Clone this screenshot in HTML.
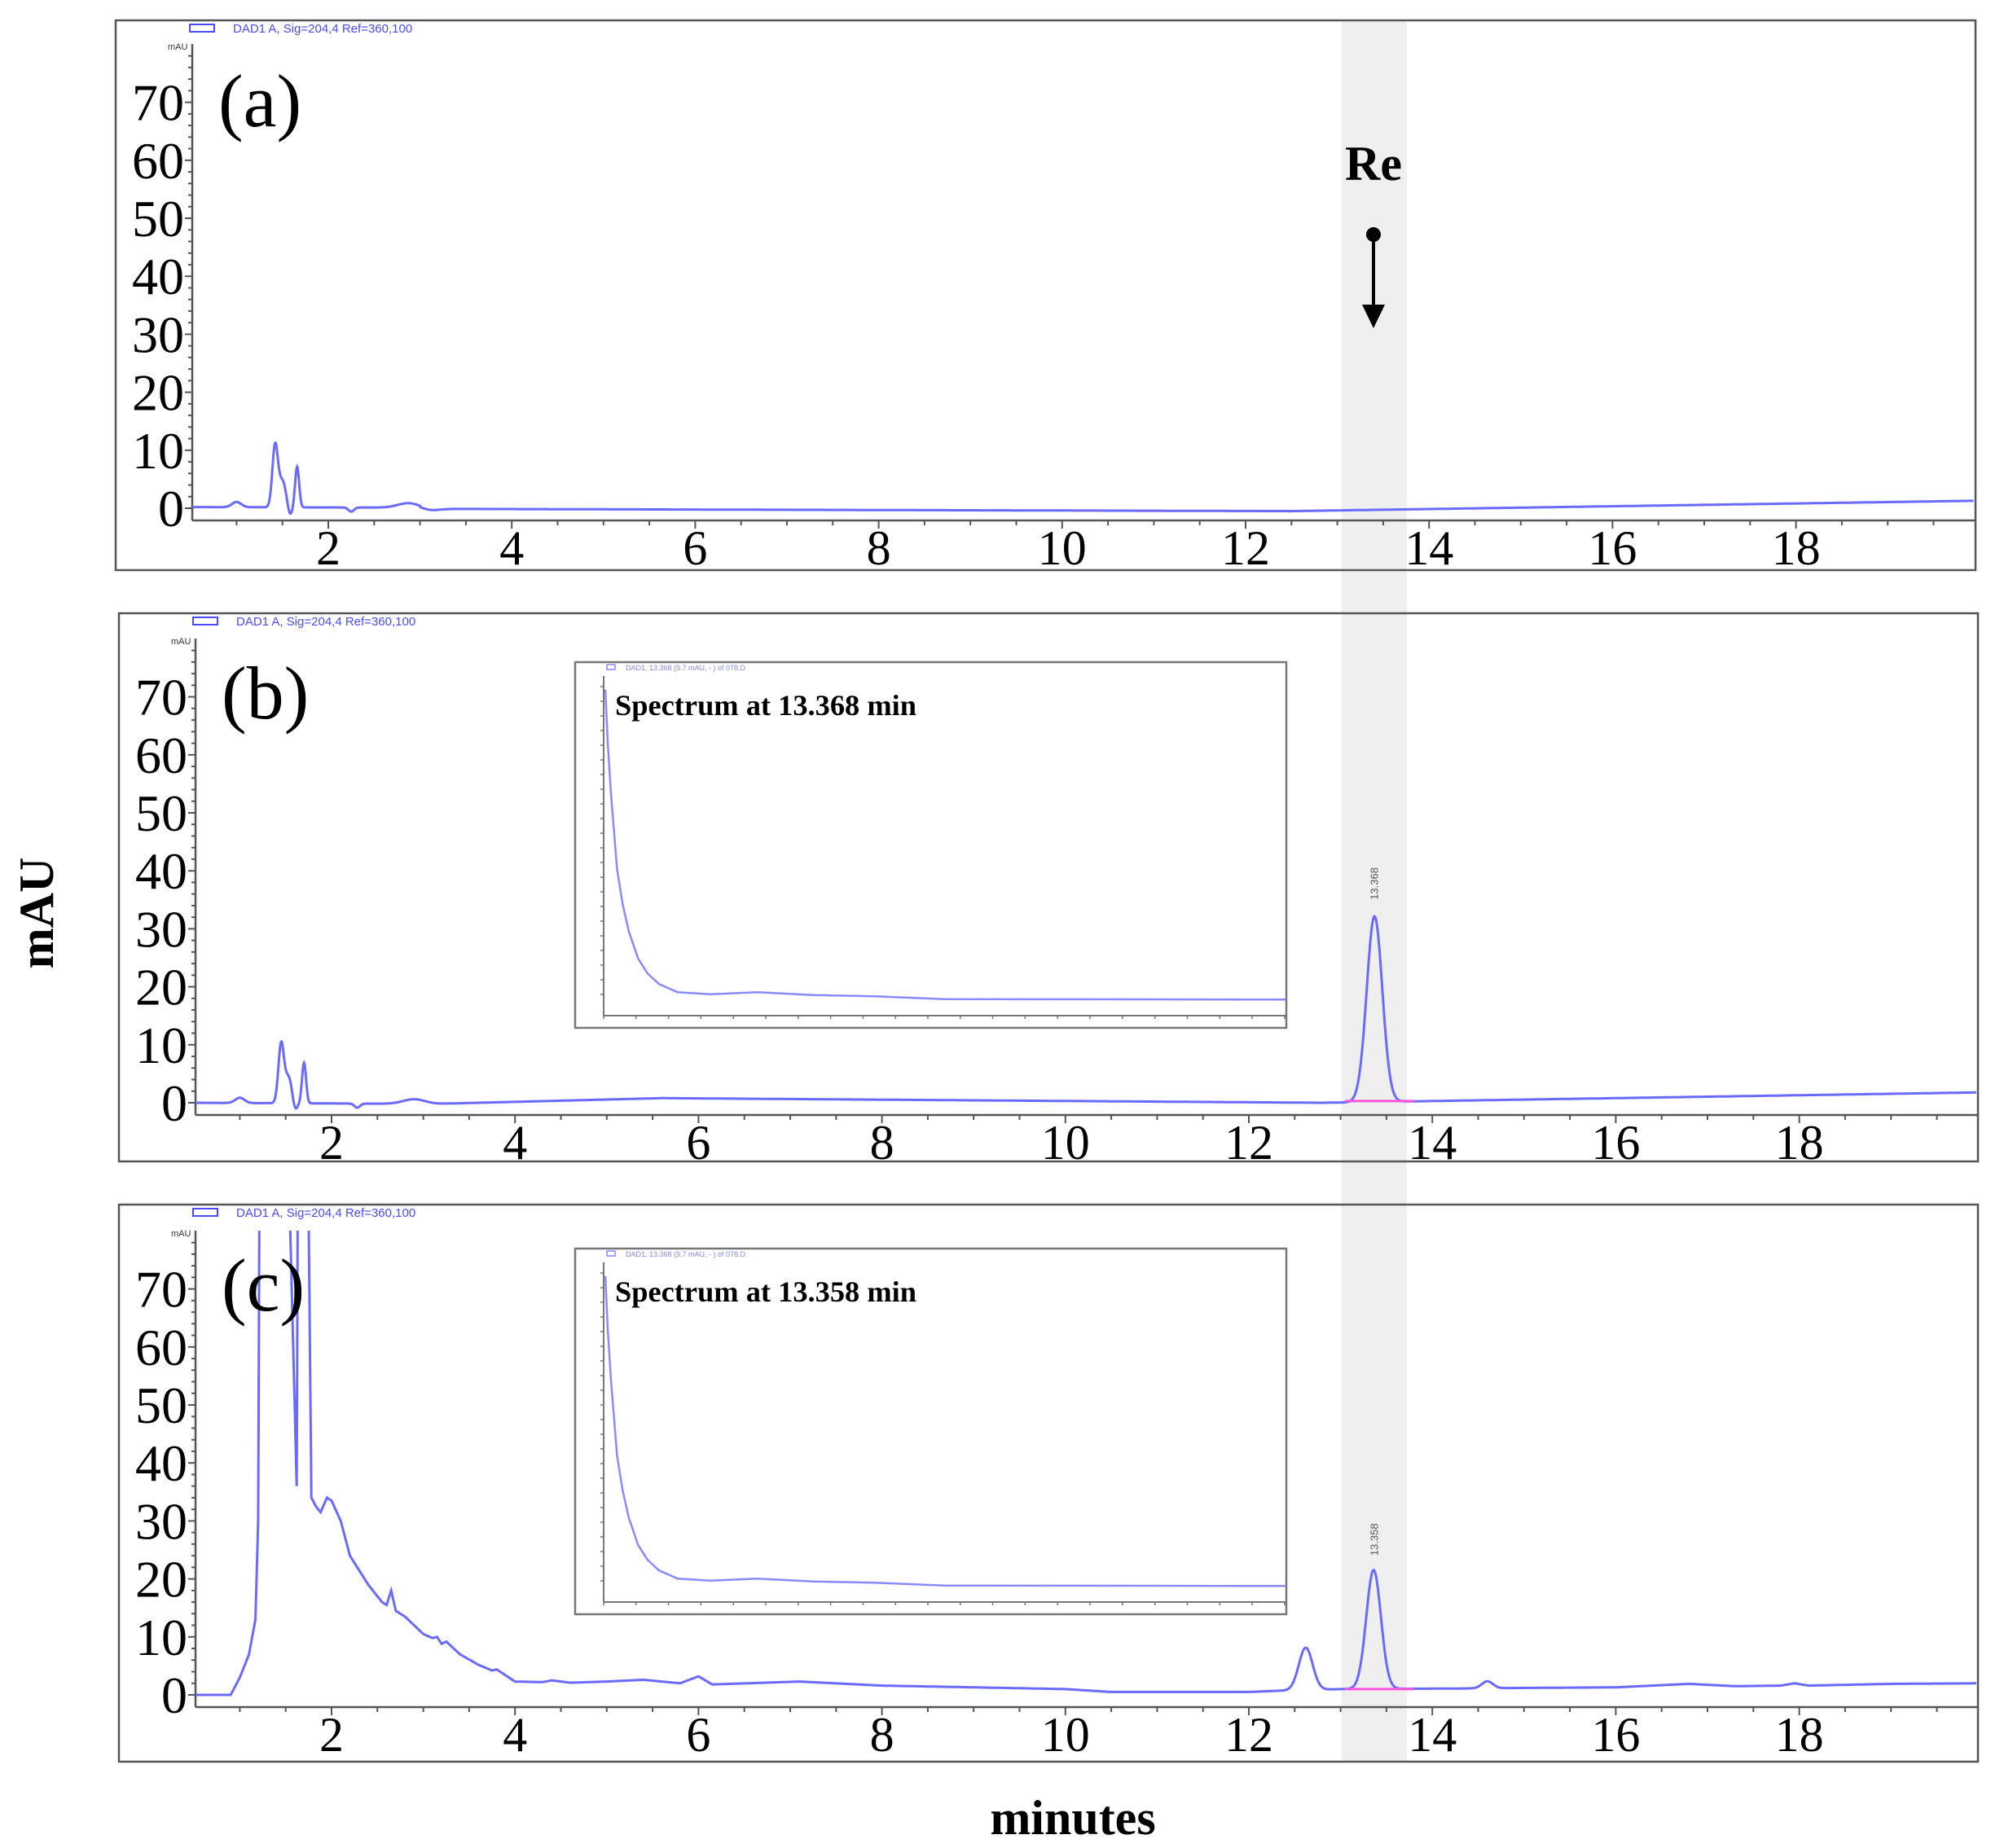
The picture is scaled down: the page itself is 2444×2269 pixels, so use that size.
<!DOCTYPE html>
<html><head><meta charset="utf-8"><style>
html,body{margin:0;padding:0;background:#fff;}
svg{display:block;}
text{font-family:"Liberation Serif",serif;}
</style></head><body>
<svg id="s" width="2444" height="2269" viewBox="0 0 2444 2269" xmlns="http://www.w3.org/2000/svg">
<rect x="0" y="0" width="2444" height="2269" fill="#fff"/>
<rect x="1647" y="26" width="80" height="2137" fill="#efefef"/>
<g id="g"></g>
<text x="1686" y="221" font-size="60" font-weight="bold" text-anchor="middle">Re</text>
<circle cx="1686" cy="288" r="9" fill="#000"/>
<line x1="1686" y1="288" x2="1686" y2="380" stroke="#000" stroke-width="4"/>
<polygon points="1672,374 1700,374 1686,403" fill="#000"/>
<text transform="translate(65,1121) rotate(-90)" font-size="60" font-weight="bold" text-anchor="middle">mAU</text>
<text x="1317" y="2252" font-size="60" font-weight="bold" text-anchor="middle">minutes</text>
</svg>
<script>
var g=document.getElementById('g');var h='';
var SC=112.6, VS=7.12;
function gs(t,c,a,s){return a*Math.exp(-0.5*Math.pow((t-c)/s,2));}
function interp(P,t){if(t<=P[0][0])return P[0][1];for(var i=1;i<P.length;i++){if(t<=P[i][0]){var a=P[i-1],b=P[i];return a[1]+(b[1]-a[1])*(t-a[0])/(b[0]-a[0]);}}return P[P.length-1][1];}
function fa(t){var v=interp([[0.5,0],[12.5,-0.5],[20,1.3]],t);
 if(t<=3)v+=0.2;
 v+=gs(t,1.0,0.9,0.05)+gs(t,1.42,10.5,0.03)+gs(t,1.5,4.5,0.04)-gs(t,1.58,1.6,0.025)+gs(t,1.66,7,0.022)-gs(t,2.25,0.7,0.03)+gs(t,2.88,0.8,0.12)-gs(t,3.1,0.3,0.1);
 return v;}
function fb(t){var v=interp([[0.5,0],[3.1,-0.2],[5.6,0.8],[12.8,0],[20,1.8]],t);
 v+=gs(t,1.0,0.9,0.05)+gs(t,1.45,10,0.03)+gs(t,1.53,4.5,0.04)-gs(t,1.6,1.6,0.025)+gs(t,1.7,7,0.022)-gs(t,2.28,0.7,0.03)+gs(t,2.9,0.8,0.12)+gs(t,13.37,32,0.085);
 return v;}
var CP=[[0.5,0],[0.9,0],[1.0,3],[1.1,7],[1.17,13],[1.2,30],[1.23,150],[1.25,300],[1.45,300],[1.49,200],[1.55,80],[1.62,36],[1.64,120],[1.66,300],[1.7,300],[1.74,100],[1.78,34],[1.83,32.5],[1.88,31.5],[1.95,34],[2.0,33.5],[2.1,30],[2.15,27],[2.2,24],[2.3,21.5],[2.4,19],[2.5,17],[2.55,16],[2.6,15.5],[2.65,18],[2.7,14.5],[2.8,13.5],[2.9,12],[3.0,10.5],[3.1,9.8],[3.15,10],[3.2,8.8],[3.25,9.2],[3.4,7],[3.6,5.2],[3.75,4.2],[3.8,4.4],[4.0,2.3],[4.3,2.2],[4.4,2.5],[4.6,2.1],[5.0,2.3],[5.4,2.6],[5.8,2.0],[6.0,3.2],[6.15,1.8],[7.1,2.3],[8,1.6],[9,1.3],[10,1.0],[10.5,0.5],[12,0.5],[12.3,0.7],[13,1.0],[14.3,1.1],[15,1.2],[16,1.3],[16.8,1.9],[17.3,1.5],[17.8,1.6],[17.95,2.0],[18.1,1.6],[19,1.9],[20,2.0]];
function fc(t){return interp(CP,t)+gs(t,12.62,7.3,0.075)+gs(t,13.36,20.5,0.08)+gs(t,14.6,1.2,0.06);}
var panels=[{dy:0,dx:0,f:fa,top:25,bot:700,r:2425},{dy:727,dx:4,f:fb,top:753,bot:1426,r:2428},{dy:1454,dx:4,f:fc,top:1479,bot:2163,r:2428}];
panels.forEach(function(p,i){
 var dx=p.dx,dy=p.dy,y0=624+dy+(i?3:0),ax=236+dx,xa=639+dy+(i?3:0);
 function X(t){return 403+dx+(t-2)*SC;} function Y(v){return y0-v*VS;}
 h+='<clipPath id="cp'+i+'"><rect x="'+ax+'" y="'+(p.top+32)+'" width="'+(p.r-ax)+'" height="'+(xa-p.top-32)+'"/></clipPath>';
 h+='<rect x="'+(142+dx)+'" y="'+p.top+'" width="'+(p.r-142-dx)+'" height="'+(p.bot-p.top)+'" fill="none" stroke="#555" stroke-width="2.5"/>';
 h+='<rect x="'+(ax-3)+'" y="'+(p.top+5)+'" width="30" height="9" fill="none" stroke="#4a4aff" stroke-width="2"/>';
 h+='<text x="'+(ax+50)+'" y="'+(p.top+15)+'" font-size="15" fill="#4a4aff" style="font-family:Liberation Sans,sans-serif">DAD1 A, Sig=204,4 Ref=360,100</text>';
 h+='<text x="'+(ax-30)+'" y="'+(xa-578)+'" font-size="11" fill="#333" style="font-family:Liberation Sans,sans-serif">mAU</text>';
 h+='<line x1="'+ax+'" y1="'+(xa-585)+'" x2="'+ax+'" y2="'+xa+'" stroke="#555" stroke-width="2.5"/>';
 h+='<line x1="'+ax+'" y1="'+xa+'" x2="'+p.r+'" y2="'+xa+'" stroke="#555" stroke-width="2.5"/>';
 for(var v=0;v<=78;v+=2){var yy=Y(v);h+='<line x1="'+(ax-(v%10?5:9))+'" y1="'+yy+'" x2="'+ax+'" y2="'+yy+'" stroke="#555" stroke-width="2"/>';
  if(v%10==0)h+='<text x="'+(ax-10)+'" y="'+(yy+22)+'" font-size="64" text-anchor="end">'+v+'</text>';}
 for(var t=0.5;t<20;t+=0.5){var xx=X(t);if(xx<ax)continue;h+='<line x1="'+xx+'" y1="'+xa+'" x2="'+xx+'" y2="'+(xa+(t%2?6:10))+'" stroke="#555" stroke-width="2"/>';
  if(t%2==0)h+='<text x="'+xx+'" y="'+(xa+54)+'" font-size="60" text-anchor="middle">'+t+'</text>';}
 var d='';for(var t=0.52;t<=20.0;t+=0.005){var xx=X(t);if(xx>p.r-2)break;var yy=Y(p.f(t));d+=(d?'L':'M')+xx.toFixed(1)+' '+yy.toFixed(1);}
 h+='<path d="'+d+'" fill="none" stroke="#6a6aff" stroke-width="3" clip-path="url(#cp'+i+')"/>';
 var lbl=['(a)','(b)','(c)'][i];
 h+='<text x="'+(268+dx)+'" y="'+(155+dy)+'" font-size="92">'+lbl+'</text>';
 if(i>0){var v1=i==1?0.3:1.0;h+='<line x1="'+X(13.05)+'" y1="'+Y(v1)+'" x2="'+X(13.8)+'" y2="'+Y(v1)+'" stroke="#ff55dd" stroke-width="3"/>';
  h+='<text transform="translate('+(X(13.37)+4)+','+(Y(i==1?35:24))+') rotate(-90)" font-size="13" fill="#555" style="font-family:Liberation Sans,sans-serif">'+(i==1?'13.368':'13.358')+'</text>';
  var it=i==1?813:1533,ib=i==1?1262:1982;
  h+='<rect x="706" y="'+it+'" width="873" height="'+(ib-it)+'" fill="#fff" stroke="#777" stroke-width="2.5"/>';
  h+='<rect x="745" y="'+(it+3)+'" width="10" height="6" fill="none" stroke="#88f" stroke-width="1.5"/>';
  h+='<text x="768" y="'+(it+10)+'" font-size="9" fill="#88f" style="font-family:Liberation Sans,sans-serif">DAD1, 13.368 (9.7 mAU, - ) of 078.D</text>';
  var ya=ib-15;
  h+='<line x1="741" y1="'+(it+17)+'" x2="741" y2="'+ya+'" stroke="#777" stroke-width="2"/>';
  h+='<line x1="741" y1="'+ya+'" x2="1579" y2="'+ya+'" stroke="#777" stroke-width="2"/>';
  for(var k=0;k<22;k++){var xx=741+k*39.8;h+='<line x1="'+xx+'" y1="'+ya+'" x2="'+xx+'" y2="'+(ya+4)+'" stroke="#777" stroke-width="1.5"/>';}
  for(var k=0;k<22;k++){var yy=it+30+k*18;h+='<line x1="737" y1="'+yy+'" x2="741" y2="'+yy+'" stroke="#777" stroke-width="1.5"/>';}
  var sp=[[75,140],[80,330],[87,520],[100,800],[112,930],[125,1030],[145,1130],[165,1185],[190,1225],[230,1255],[300,1262],[400,1255],[520,1265],[650,1270],[800,1280],[1530,1282]];
  var o=it-813,sd='';sp.forEach(function(q,j){sd+=(j?'L':'M')+(700+q[0]/1.742).toFixed(1)+' '+(800+o+q[1]/3).toFixed(1);});
  h+='<path d="'+sd+'" fill="none" stroke="#8a8aff" stroke-width="2.5" stroke-linejoin="round"/>';
  h+='<text x="755" y="'+(878+o)+'" font-size="36" font-weight="bold" textLength="370" lengthAdjust="spacingAndGlyphs">Spectrum at '+(i==1?'13.368':'13.358')+' min</text>';
 }
});
g.innerHTML=h;
</script>
</body></html>
